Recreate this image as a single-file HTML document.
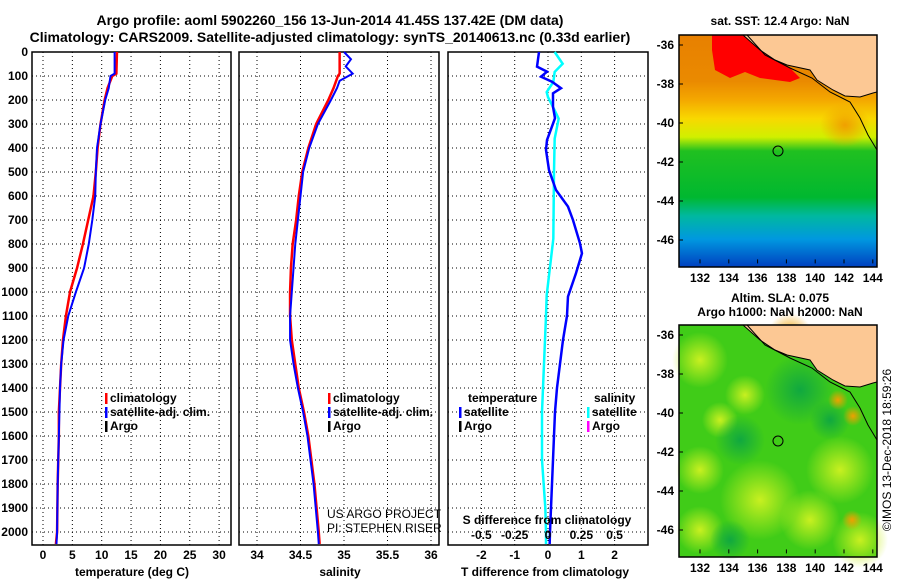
<!DOCTYPE html>
<html><head><meta charset="utf-8"><style>
body{margin:0;background:#fff;}
svg{display:block;font-family:"Liberation Sans",sans-serif;font-weight:bold;}
</style></head><body>
<svg id="c" width="900" height="580" viewBox="0 0 900 580" xmlns="http://www.w3.org/2000/svg">
<defs>
<linearGradient id="sst" x1="0" y1="0" x2="0" y2="1">
<stop offset="0" stop-color="#e88000"/><stop offset="0.2" stop-color="#ea8a00"/>
<stop offset="0.28" stop-color="#f4a800"/><stop offset="0.36" stop-color="#f8d800"/>
<stop offset="0.44" stop-color="#d0f000"/><stop offset="0.5" stop-color="#20c020"/>
<stop offset="0.7" stop-color="#00b830"/><stop offset="0.78" stop-color="#00b8a0"/>
<stop offset="0.88" stop-color="#0098e0"/><stop offset="1" stop-color="#0040c0"/>
</linearGradient>
<radialGradient id="ylw"><stop offset="0" stop-color="#c8f020"/><stop offset="1" stop-color="#c8f020" stop-opacity="0"/></radialGradient>
<radialGradient id="dk"><stop offset="0" stop-color="#10a840"/><stop offset="1" stop-color="#10a840" stop-opacity="0"/></radialGradient>
<radialGradient id="org"><stop offset="0" stop-color="#f0a000"/><stop offset="1" stop-color="#f0a000" stop-opacity="0"/></radialGradient>
</defs>
<g id="g"></g>
</svg>
<script>
// ---- data ----
const depthT = [0,90,100,150,200,300,400,500,600,700,800,900,1000,1100,1200,1300,1400,1500,1600,1800,2000,2050];
const climT = [12.6,12.5,11.8,11.0,10.5,9.8,9.3,9.0,8.6,7.7,6.8,5.8,4.6,3.9,3.4,3.1,2.9,2.7,2.7,2.5,2.4,2.2];
const satT = [12.2,12.2,11.5,11.2,10.6,9.8,9.2,9.0,8.9,8.4,7.8,7.0,5.6,4.3,3.5,3.1,2.9,2.8,2.7,2.5,2.4,2.3];
const depthS = [0,90,100,150,200,300,400,500,600,700,800,900,1000,1100,1200,1300,1400,1500,1600,1800,2000,2050];
const climS = [34.95,34.95,34.93,34.88,34.82,34.68,34.59,34.52,34.48,34.45,34.41,34.39,34.38,34.38,34.40,34.44,34.48,34.54,34.59,34.66,34.71,34.72];
const depthSatS = [0,30,60,90,120,150,200,300,400,500,600,700,800,900,1000,1100,1200,1300,1400,1500,1600,1800,2000,2050];
const satS = [35.0,35.08,35.02,35.1,34.95,34.92,34.85,34.7,34.6,34.53,34.5,34.47,34.44,34.42,34.40,34.38,34.38,34.42,34.47,34.53,34.58,34.65,34.70,34.71];
const depthDT = [0,61,82,103,124,151,172,228,276,367,408,492,575,644,700,797,839,922,1019,1100,1200,1300,1400,1500,1700,1900,2000,2050];
const diffT = [-0.27,-0.33,-0.03,-0.21,0.12,0.39,0.15,0.15,0.21,-0.03,-0.06,0.03,0.24,0.6,0.75,0.96,1.02,0.84,0.6,0.57,0.45,0.36,0.27,0.21,0.15,0.09,0.06,0.05];
const depthDS = [0,49,83,125,167,188,243,278,361,500,778,1014,1100,1300,1500,1700,1900,2000,2050];
const diffS = [0.05,0.11,0.05,0.04,-0.01,0.0,0.05,0.08,0.05,0.045,0.04,-0.01,-0.015,-0.03,-0.045,-0.045,-0.02,-0.015,-0.015];
const depthTicks = [0,100,200,300,400,500,600,700,800,900,1000,1100,1200,1300,1400,1500,1600,1700,1800,1900,2000];
const tTicks = [0,5,10,15,20,25,30];
const sTicks = [34,34.5,35,35.5,36];
const dtTicks = [-2,-1,0,1,2];
const dsTicks = [-0.5,-0.25,0,0.25,0.5];
const dsTickLabels = ['-0.5','-0.25','0','0.25','0.5'];
const lonTicks = [132,134,136,138,140,142,144];
const latTicks = [-36,-38,-40,-42,-44,-46];

// ---- axes ----
const TOP=52, BOT=545;
const y = d => TOP + d*0.24;
const xT = v => 43 + v*5.87;
const xS = v => 257 + (v-34)*87;
const xD = v => 548 + v*33.3;
const xDS = v => 548 + v*133.3;
const lonX = v => 700 + (v-132)*14.4;
const latY1 = v => 45 + (-36 - v)*19.5;
const latY2 = v => 335 + (-36 - v)*19.5;

const NS='http://www.w3.org/2000/svg';
const G=document.getElementById('g');
function el(tag, attrs, parent){const e=document.createElementNS(NS,tag);for(const k in attrs)e.setAttribute(k,attrs[k]);(parent||G).appendChild(e);return e;}
function txt(x,yy,s,opts){const o=Object.assign({'font-size':12,'text-anchor':'middle',fill:'#000'},opts||{});o.x=x;o.y=yy;const t=el('text',o);t.textContent=s;return t;}

// titles
let t1=txt(330,25,'Argo profile: aoml 5902260_156 13-Jun-2014 41.45S 137.42E (DM data)',{'font-size':14});

let t2=txt(330,42,'Climatology: CARS2009. Satellite-adjusted climatology: synTS_20140613.nc (0.33d earlier)',{'font-size':14});


function panel(name,x0,x1,xs,xfn){
  const g=el('g',{});
  
  
  depthTicks.forEach(d=>{ if(d>0) el('line',{x1:x0,x2:x1,y1:y(d),y2:y(d),stroke:'#000','stroke-width':1,'stroke-dasharray':'1,3'},g); });
  xs.forEach(v=>{ el('line',{x1:xfn(v),x2:xfn(v),y1:TOP,y2:BOT,stroke:'#000','stroke-width':1,'stroke-dasharray':'1,3'},g); });
  el('rect',{x:x0,y:TOP,width:x1-x0,height:BOT-TOP,fill:'none',stroke:'#000','stroke-width':1.5},g);
  return g;
}
function line(g,ds,vs,fn,color,w,name){
  const p=el('polyline',{points:ds.map((d,i)=>fn(vs[i])+','+y(d)).join(' '),fill:'none',stroke:color,'stroke-width':w,'stroke-linejoin':'miter'},g);
  
  
}

// panel 1
const p1=panel('temperature-panel',32,231,tTicks,xT);
line(p1,depthT,climT,xT,'#f00',2.5,'climatology-temperature-line');
line(p1,depthT,satT,xT,'#00f',2,'satellite-temperature-line');
depthTicks.forEach(d=>{const t=txt(28,y(d)+4,String(d),{'text-anchor':'end'});});
tTicks.forEach(v=>{const t=txt(xT(v),559,String(v));});
let a1=txt(132,576,'temperature (deg C)');

// panel 2
const p2=panel('salinity-panel',239,439,sTicks,xS);
line(p2,depthS,climS,xS,'#f00',2.5,'climatology-salinity-line');
line(p2,depthSatS,satS,xS,'#00f',2,'satellite-salinity-line');
sTicks.forEach(v=>{const t=txt(xS(v),559,String(v));});
let a2=txt(340,576,'salinity');
let u1=txt(327,518,'US ARGO PROJECT',{'text-anchor':'start','font-weight':'normal','font-size':12});
let u2=txt(327,532,'PI: STEPHEN RISER',{'text-anchor':'start','font-weight':'normal','font-size':12});

// legends
function legendEntry(x,yy,color,label,name){
  const r=el('rect',{x:x,y:yy-9,width:2.5,height:11,fill:color});
  
  const t=txt(x+5,yy,label,{'text-anchor':'start'});
  
}
legendEntry(105,402,'#f00','climatology','legend-climatology-t');
legendEntry(105,416,'#00f','satellite-adj. clim.','legend-satellite-t');
legendEntry(105,430,'#000','Argo','legend-argo-t');
legendEntry(328,402,'#f00','climatology','legend-climatology-s');
legendEntry(328,416,'#00f','satellite-adj. clim.','legend-satellite-s');
legendEntry(328,430,'#000','Argo','legend-argo-s');

// panel 3
const p3=panel('difference-panel',448,648,dtTicks,xD);
line(p3,depthDS,diffS,xDS,'#0ff',2.5,'salinity-difference-line');
line(p3,depthDT,diffT,xD,'#00f',2.5,'temperature-difference-line');
dtTicks.forEach(v=>{const t=txt(xD(v),559,String(v));});
dsTicks.forEach((v,i)=>{const t=txt(xDS(v),539,dsTickLabels[i]);});
let a3=txt(545,576,'T difference from climatology');
let a4=txt(547,524,'S difference from climatology');
let h1=txt(468,402,'temperature',{'text-anchor':'start'});
let h2=txt(594,402,'salinity',{'text-anchor':'start'});
legendEntry(459,416,'#00f','satellite','legend-satellite-tdiff');
legendEntry(459,430,'#000','Argo','legend-argo-tdiff');
legendEntry(587,416,'#0ff','satellite','legend-satellite-sdiff');
legendEntry(587,430,'#f0f','Argo','legend-argo-sdiff');

// maps
function coast(g,oy){
  const pts=[[743,35],[760,50],[775,60],[787,65],[810,70],[817,80],[833,90],[845,96],[860,97],[873,93],[877,92],[877,35]].map(p=>p[0]+','+(p[1]+oy)).join(' ');
  el('polygon',{points:pts,fill:'#fcc894',stroke:'#000','stroke-width':1},g);
  el('polyline',{points:[[747,35],[765,55],[790,68],[812,78],[830,92],[850,102],[860,118],[868,135],[877,150]].map(p=>p[0]+','+(p[1]+oy)).join(' '),fill:'none',stroke:'#000','stroke-width':1},g);
}
function mapAxes(g,latY){
  lonTicks.forEach(v=>{const t=txt(lonX(v),282+(latY===latY2?290:0),String(v));
    el('line',{x1:lonX(v),x2:lonX(v),y1:latY(-47.2),y2:latY(-47.2)-4,stroke:'#000'},g);});
  latTicks.forEach(v=>{const t=txt(674,latY(v)+4,String(v),{'text-anchor':'end'});
    el('line',{x1:679,x2:683,y1:latY(v),y2:latY(v),stroke:'#000'},g);});
}
const m1=el('g',{});


el('rect',{x:679,y:35,width:198,height:232,fill:'url(#sst)'},m1);
el('polygon',{points:'712,35 745,35 760,50 790,68 800,78 790,82 760,78 745,72 730,78 715,70 712,50',fill:'#f00'},m1);
el('ellipse',{cx:845,cy:125,rx:25,ry:22,fill:'url(#org)'},m1);
coast(m1,0);
el('rect',{x:679,y:35,width:198,height:232,fill:'none',stroke:'#000','stroke-width':1.5},m1);
el('circle',{cx:778,cy:151,r:5,fill:'none',stroke:'#000'},m1);
mapAxes(m1,latY1);
let mt1=txt(780,25,'sat. SST: 12.4 Argo: NaN');

const m2=el('g',{});


el('rect',{x:679,y:325,width:198,height:232,fill:'#40cc18'},m2);
[[700,360,28],[760,500,40],[840,470,34],[700,470,24],[860,540,28],[745,395,20],[810,520,30],[700,530,24],[720,420,18]].forEach(b=>el('circle',{cx:b[0],cy:b[1],r:b[2],fill:'url(#ylw)'},m2));
[[800,390,35],[740,440,25],[830,420,20],[730,540,20]].forEach(b=>el('circle',{cx:b[0],cy:b[1],r:b[2],fill:'url(#dk)'},m2));
[[838,400,10],[853,416,10],[852,520,10],[790,335,22]].forEach(b=>el('circle',{cx:b[0],cy:b[1],r:b[2],fill:'url(#org)'},m2));
coast(m2,290);
el('rect',{x:679,y:325,width:198,height:232,fill:'none',stroke:'#000','stroke-width':1.5},m2);
el('circle',{cx:778,cy:441,r:5,fill:'none',stroke:'#000'},m2);
mapAxes(m2,latY2);
let mt2=txt(780,302,'Altim. SLA: 0.075');
let mt3=txt(780,316,'Argo h1000: NaN h2000: NaN');
let cr=txt(891,450,'©IMOS 13-Dec-2018 18:59:26',{'font-weight':'normal','transform':'rotate(-90 891 450)'});

</script>
</body></html>
